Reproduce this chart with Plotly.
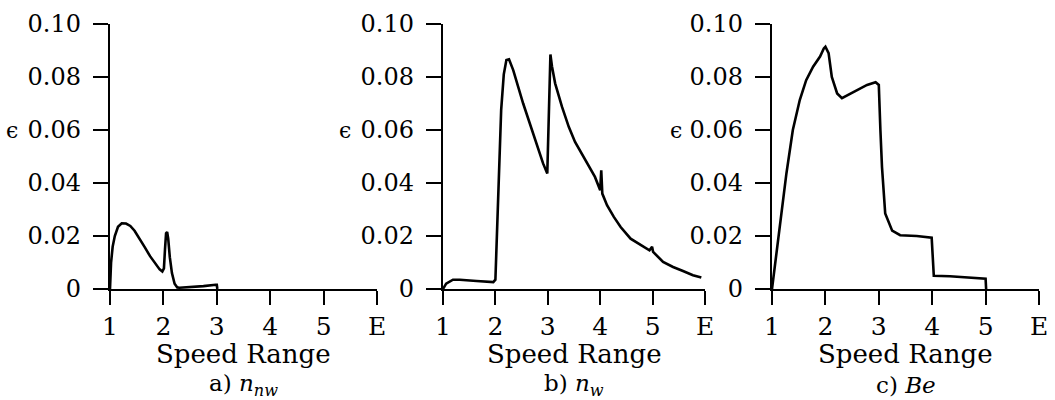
import plotly.graph_objects as go

# ---- data ----
x_a = [1.00, 1.01, 1.02, 1.05, 1.09, 1.15, 1.22, 1.30, 1.38, 1.46, 1.55, 1.65, 1.75, 1.85, 1.93, 1.98,
       2.01, 2.03, 2.05, 2.07, 2.09, 2.12, 2.16, 2.21, 2.26, 2.30, 2.50, 2.75, 2.98, 3.00, 3.01]
y_a = [0.000, 0.006, 0.010, 0.016, 0.020, 0.0235, 0.0248, 0.0247, 0.0238, 0.0220, 0.0192, 0.0158, 0.0124,
       0.0094, 0.0074, 0.0066, 0.0078, 0.0150, 0.0210, 0.0215, 0.0190, 0.0120, 0.0060, 0.0020, 0.0006,
       0.0005, 0.0007, 0.0011, 0.0016, 0.0016, 0.0000]

x_b = [1.00, 1.06, 1.19, 1.32, 1.64, 1.96, 2.00, 2.02, 2.05, 2.11, 2.16, 2.21, 2.26, 2.34, 2.53, 2.72,
       2.91, 2.99, 3.02, 3.05, 3.08, 3.14, 3.27, 3.40, 3.52, 3.65, 3.78, 3.90, 4.00, 4.02, 4.04, 4.13,
       4.26, 4.39, 4.58, 4.78, 4.94, 4.99, 5.01, 5.20, 5.39, 5.58, 5.77, 5.93]
y_b = [0.000, 0.0020, 0.0035, 0.0035, 0.0030, 0.0026, 0.0035, 0.0150, 0.0335, 0.0675, 0.0810, 0.0864,
       0.0867, 0.0826, 0.0700, 0.0587, 0.0474, 0.0436, 0.0700, 0.0885, 0.0840, 0.0776, 0.0688, 0.0612,
       0.0555, 0.0511, 0.0467, 0.0423, 0.0373, 0.0448, 0.0360, 0.0316, 0.0272, 0.0234, 0.0190, 0.0165,
       0.0146, 0.0159, 0.0140, 0.0102, 0.0083, 0.0068, 0.0052, 0.0043]

x_c = [1.00, 1.07, 1.14, 1.27, 1.39, 1.52, 1.64, 1.77, 1.90, 1.97, 2.00, 2.06, 2.12, 2.22, 2.31, 2.53,
       2.78, 2.94, 3.00, 3.03, 3.06, 3.12, 3.25, 3.40, 3.71, 3.99, 4.01, 4.03, 4.33, 5.00, 5.01]
y_c = [0.000, 0.011, 0.021, 0.0436, 0.0600, 0.0713, 0.0788, 0.0839, 0.0877, 0.0908, 0.0914, 0.0890,
       0.0800, 0.0738, 0.0720, 0.0744, 0.0770, 0.0780, 0.0770, 0.0600, 0.0460, 0.0285, 0.0220, 0.0203,
       0.0200, 0.0194, 0.0100, 0.0050, 0.0048, 0.0039, 0.0000]

x_tickvals = [1, 2, 3, 4, 5, 6]
x_ticktext = ["1", "2", "3", "4", "5", "E"]
y_tickvals = [0, 0.02, 0.04, 0.06, 0.08, 0.10]
y_ticktext = ["0", "0.02", "0.04", "0.06", "0.08", "0.10"]
x_title = "Speed Range"
captions = ["a) <i>n</i><sub><i>nw</i></sub>", "b) <i>n</i><sub><i>w</i></sub>", "c) <i>Be</i>"]
y_symbol = "ϵ"

W, H = 1055, 400
FONT = "DejaVu Serif, Liberation Serif, serif"

# panel pixel geometry (layout only)
panels_px = [(110, 377), (443, 705), (772, 1039)]
eps_px = [12, 345, 676]
y0_px, y1_px = 289, 24

fig = go.Figure()
series = [(x_a, y_a), (x_b, y_b), (x_c, y_c)]
for i, (xs, ys) in enumerate(series):
    n = "" if i == 0 else str(i + 1)
    fig.add_trace(go.Scatter(x=xs, y=ys, mode="lines", xaxis="x" + n, yaxis="y" + n,
                             line=dict(color="black", width=2.6), showlegend=False,
                             hoverinfo="skip"))
    l, r = panels_px[i]
    xa = dict(domain=[l / W, r / W], range=[1, 6], tickvals=x_tickvals, ticktext=x_ticktext,
              showline=True, linecolor="black", linewidth=2.4, ticks="outside", ticklen=14,
              tickwidth=1.5, tickcolor="black", showgrid=False, zeroline=False,
              tickfont=dict(family=FONT, size=25, color="black"), anchor="y" + n,
              ticklabelstandoff=0, automargin=False, fixedrange=True)
    ya = dict(domain=[1 - y0_px / H, 1 - y1_px / H], range=[0, 0.10], tickvals=y_tickvals,
              ticktext=y_ticktext, showline=True, linecolor="black", linewidth=2.4,
              ticks="outside", ticklen=15, tickwidth=1.5, tickcolor="black", showgrid=False,
              zeroline=False, tickfont=dict(family=FONT, size=24, color="black"),
              anchor="x" + n, ticklabelstandoff=7, automargin=False, fixedrange=True)
    fig.layout["xaxis" + n] = xa
    fig.layout["yaxis" + n] = ya
    cx = (l + r) / 2 / W
    fig.add_annotation(x=cx, y=1 - 354 / H, xref="paper", yref="paper", text=x_title,
                       showarrow=False, font=dict(family=FONT, size=26, color="black"),
                       xanchor="center", yanchor="middle")
    fig.add_annotation(x=cx, y=1 - 385 / H, xref="paper", yref="paper", text=captions[i],
                       showarrow=False, font=dict(family=FONT, size=23, color="black"),
                       xanchor="center", yanchor="middle")
    fig.add_annotation(x=eps_px[i] / W, y=0.06, xref="paper", yref="y" + n, text=y_symbol,
                       showarrow=False, font=dict(family=FONT, size=22, color="black"),
                       xanchor="center", yanchor="middle")

fig.update_layout(width=W, height=H, margin=dict(l=0, r=0, t=0, b=0),
                  paper_bgcolor="white", plot_bgcolor="white")
fig.write_html("out.html", config={"displayModeBar": False},
               post_script="document.body.style.margin='0';document.body.style.overflow='hidden';")
